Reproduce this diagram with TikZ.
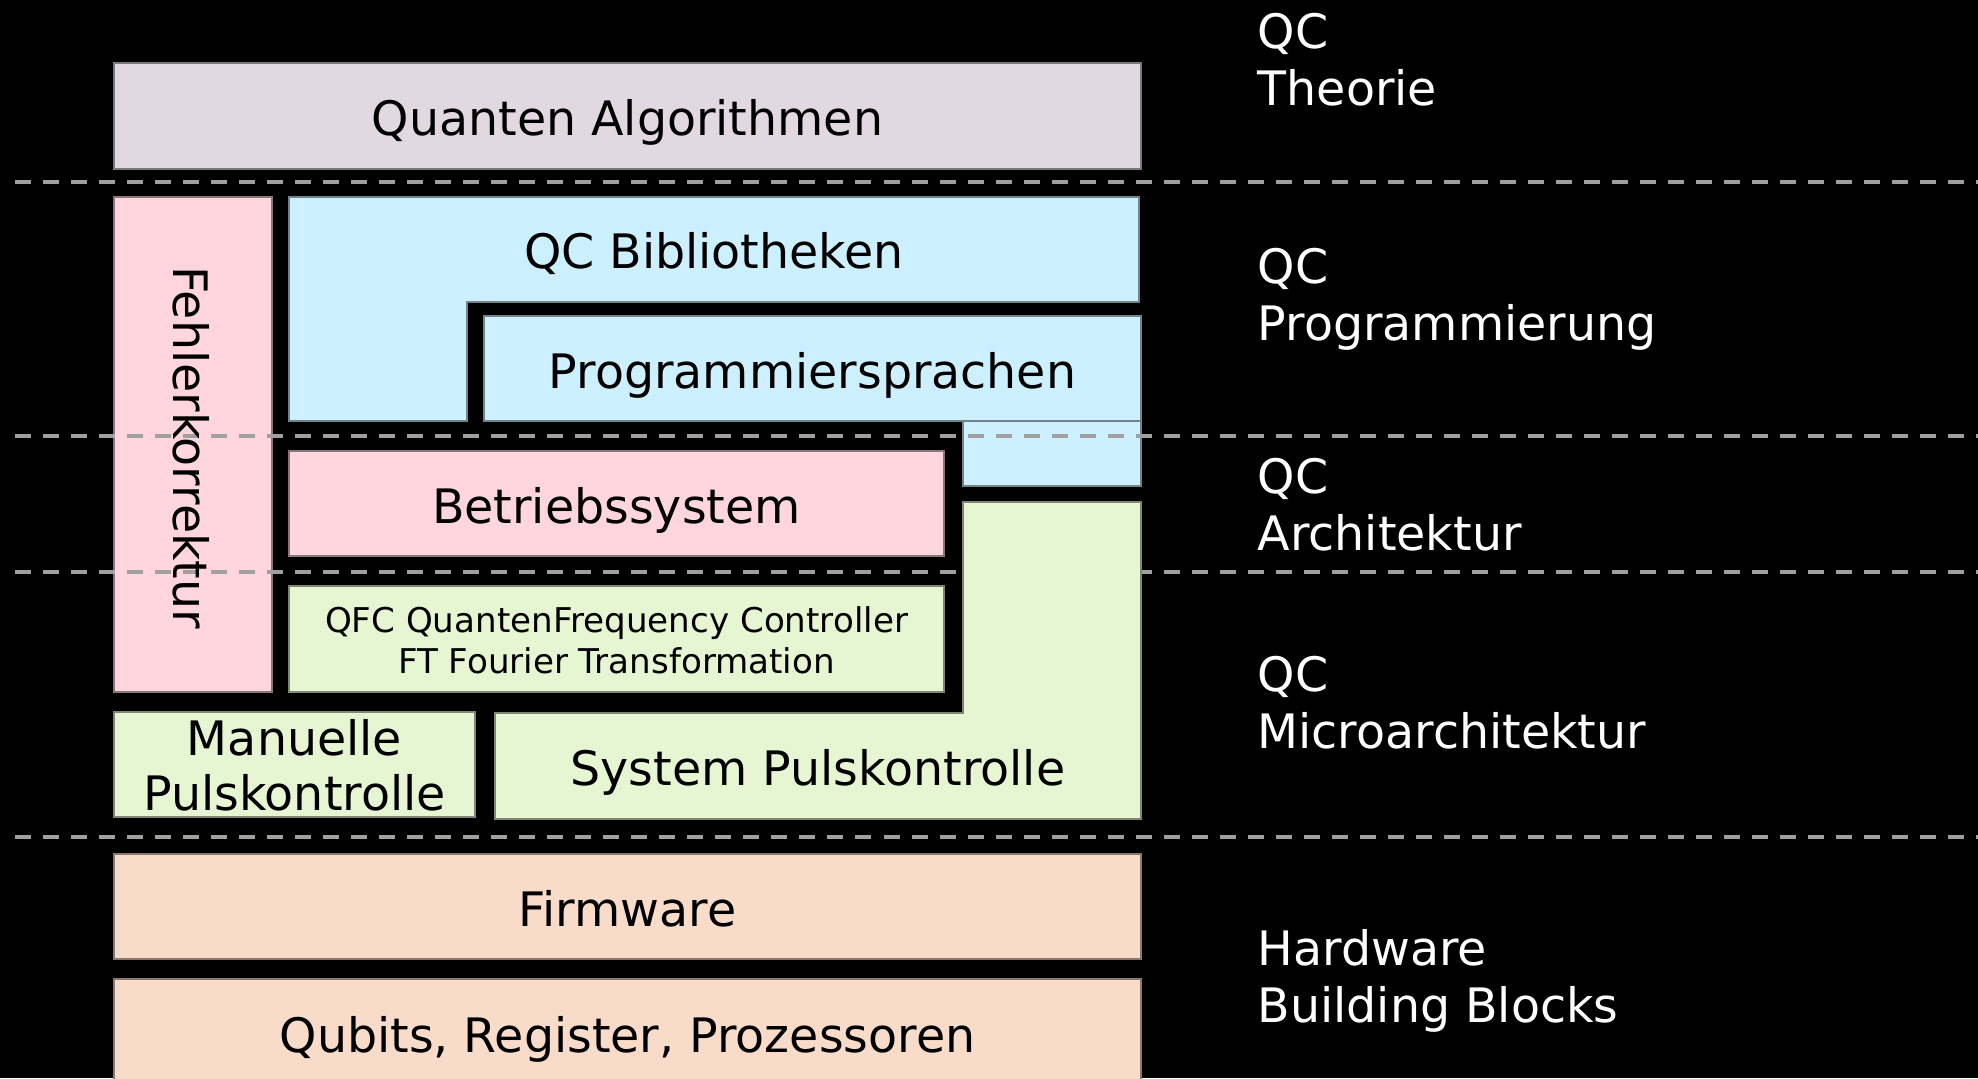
\documentclass[tikz,border=0pt]{standalone}
\usepackage{fontspec}
\setmainfont{DejaVu Sans}
\definecolor{algofill}{RGB}{226,216,226}
\definecolor{progfill}{RGB}{204,240,255}
\definecolor{osfill}{RGB}{255,213,222}
\definecolor{ctrlfill}{RGB}{230,246,211}
\definecolor{hwfill}{RGB}{249,219,201}
\definecolor{sepgray}{RGB}{160,160,160}
\tikzset{
  lyr/.style   = {draw=#1!55!black, fill=#1, line width=0.3pt},
  txt/.style   = {inner sep=0pt, anchor=base, align=center,
                  font=\fontsize{13.5}{15.6}\selectfont},
  smalltxt/.style = {txt, font=\fontsize{9.7}{11.6}\selectfont},
  side/.style  = {inner sep=0pt, anchor=base west, align=left, text=white,
                  font=\fontsize{13.5}{16.2}\selectfont},
  sep/.style   = {draw=sepgray, line width=1.2pt, dash pattern=on 0.16cm off 0.12cm},
}

\begin{document}
\begin{tikzpicture}[x=0.01cm, y=-0.01cm]
\fill[black] (0,0) rectangle (1978,1078);
\useasboundingbox (0,0) rectangle (1978,1078);

% layer blocks
\path[lyr=algofill] (114,63) rectangle (1141,169);
\path[lyr=osfill]   (114,197) rectangle (272,692);
\path[lyr=progfill] (289,197) -- (1139,197) -- (1139,302) -- (467,302)
                    -- (467,421) -- (289,421) -- cycle;
\path[lyr=progfill] (484,316) rectangle (1141,421);
\path[lyr=progfill] (963,421) rectangle (1141,486);
\path[lyr=osfill]   (289,451) rectangle (944,556);
\path[lyr=ctrlfill] (289,586) rectangle (944,692);
\path[lyr=ctrlfill] (114,712) rectangle (475,817);
\path[lyr=hwfill]   (114,854) rectangle (1141,959);
\path[lyr=hwfill]   (114,979) rectangle (1141,1090);

% level separators
\foreach \y in {181.7,436.3,571.7,836.7}
  \draw[sep] (15,\y) -- (1978,\y);

% pulse control block sits above the separators
\path[lyr=ctrlfill] (963,502) -- (1141,502) -- (1141,819) -- (495,819)
                    -- (495,713) -- (963,713) -- cycle;

% multi-line texts: base is the last line
\node[txt] (algo) at (627.5,135) {Quanten Algorithmen};
\node[txt, rotate=-90] (fehler) at (173,447.5) {Fehlerkorrektur};
\node[txt] (bib)  at (714,268)   {QC Bibliotheken};
\node[txt] (prog) at (812.5,388) {Programmiersprachen};
\node[txt] (os)   at (616.5,523) {Betriebssystem};
\node[smalltxt] (qfc) at (616.5,673)
  {QFC QuantenFrequency Controller\\FT Fourier Transformation};
\node[txt] (manual) at (294.5,810) {Manuelle\\Pulskontrolle};
\node[txt] (syspuls) at (818,785) {System Pulskontrolle};
\node[txt] (fw)   at (627.5,926)  {Firmware};
\node[txt] (qub)  at (627.5,1052) {Qubits, Register, Prozessoren};

\node[side] (lvtheo) at (1257,105)  {QC\\Theorie};
\node[side] (lvprog) at (1257,340)  {QC\\Programmierung};
\node[side] (lvarch) at (1257,550)  {QC\\Architektur};
\node[side] (lvmicro) at (1257,748) {QC\\Microarchitektur};
\node[side] (lvhw)   at (1257,1022) {Hardware\\Building Blocks};
\end{tikzpicture}
\end{document}
